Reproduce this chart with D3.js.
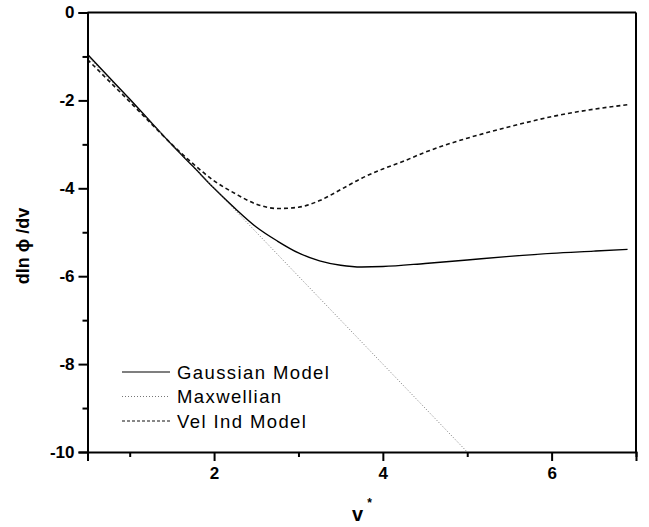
<!DOCTYPE html>
<html>
<head>
<meta charset="utf-8">
<script src="https://cdn.jsdelivr.net/npm/d3@7"></script>
<style>
  body { margin: 0; background: #fff; }
  text { font-family: "Liberation Sans", Arial, sans-serif; }
</style>
</head>
<body>
<div class="LineGraph"></div>
<script>
// x values (v*) for each series
const vGauss = [0.5, 0.75, 1.0, 1.25, 1.5, 1.75, 2.0, 2.25, 2.5, 2.75, 3.0, 3.25, 3.5, 3.75, 4.0, 4.5, 5.0, 5.5, 6.0, 6.5, 6.9];
const gaussian = [-0.95, -1.46, -1.97, -2.49, -3.01, -3.5, -4.0, -4.46, -4.88, -5.2, -5.47, -5.65, -5.75, -5.79, -5.78, -5.71, -5.63, -5.55, -5.48, -5.43, -5.39];

const vMax = [0.5, 1, 1.5, 2, 2.5, 3, 3.5, 4, 4.5, 5];
const maxwellian = [-1, -2, -3, -4, -5, -6, -7, -8, -9, -10];

const vVel = [0.5, 0.75, 1.0, 1.25, 1.5, 1.75, 2.0, 2.25, 2.5, 2.75, 3.0, 3.25, 3.5, 3.75, 4.0, 4.25, 4.5, 4.75, 5.0, 5.5, 6.0, 6.5, 6.9];
const velInd = [-1.07, -1.55, -2.03, -2.52, -3.0, -3.44, -3.83, -4.12, -4.36, -4.46, -4.43, -4.28, -4.03, -3.77, -3.56, -3.38, -3.18, -3.01, -2.86, -2.6, -2.37, -2.2, -2.1];

const xMajor = [2, 4, 6];
const xMinor = [1, 3, 5, 7];
const yMajor = [0, -2, -4, -6, -8, -10];
const yMinor = [-1, -3, -5, -7, -9];

const seriesNames = ["Gaussian Model", "Maxwellian", "Vel Ind Model"];

const width = 649, height = 527;
const margin = ({ top: 12.5, right: 13, bottom: 75, left: 87.5 });

//scales
const x = d3.scaleLinear()
  .domain([0.5, 7])
  .range([margin.left, width - margin.right]);

const y = d3.scaleLinear()
  .domain([-10, 0])
  .range([height - margin.bottom, margin.top]);

const svg = d3.select(".LineGraph").append("svg")
  .attr("width", width)
  .attr("height", height);

//curves
const line = d3.line()
  .x(d => x(d[0]))
  .y(d => y(d[1]))
  .curve(d3.curveMonotoneX);

const series = [
  { name: seriesNames[0], data: d3.zip(vGauss, gaussian), dash: null, width: 1.4, color: "#000" },
  { name: seriesNames[1], data: d3.zip(vMax, maxwellian), dash: "1,2", width: 0.9, color: "#666" },
  { name: seriesNames[2], data: d3.zip(vVel, velInd), dash: "4,3", width: 1.6, color: "#111" }
];

svg.append("g").selectAll("path")
  .data(series)
  .join("path")
  .attr("fill", "none")
  .attr("stroke", d => d.color)
  .attr("stroke-width", d => d.width)
  .attr("stroke-dasharray", d => d.dash)
  .attr("d", d => line(d.data));

//bottom axis (major + minor ticks)
const xAxisG = svg.append("g")
  .attr("transform", `translate(0,${height - margin.bottom})`);
xAxisG.call(d3.axisBottom(x).tickValues(xMajor).tickSize(9).tickPadding(6).tickFormat(d3.format("d")));
xAxisG.append("g").call(d3.axisBottom(x).tickValues(xMinor).tickSize(5).tickFormat(""))
  .call(g => g.select(".domain").remove());

//left axis
const yAxisG = svg.append("g")
  .attr("transform", `translate(${margin.left},0)`);
yAxisG.call(d3.axisLeft(y).tickValues(yMajor).tickSize(9).tickPadding(4).tickFormat(d => d3.format("d")(d).replace("−", "-")));
yAxisG.append("g").call(d3.axisLeft(y).tickValues(yMinor).tickSize(5).tickFormat(""))
  .call(g => g.select(".domain").remove());

svg.selectAll(".domain").attr("stroke-width", 2);
svg.selectAll(".tick line").attr("stroke-width", 2);
svg.selectAll(".tick text")
  .attr("font-size", 17)
  .attr("font-weight", "bold")
  .attr("font-family", "Liberation Sans, Arial, sans-serif")
  .attr("fill", "#000");

//top and right frame
svg.append("line")
  .attr("x1", x(0.5)).attr("x2", x(7))
  .attr("y1", y(0)).attr("y2", y(0))
  .attr("stroke", "#000").attr("stroke-width", 2);
svg.append("line")
  .attr("x1", x(7)).attr("x2", x(7))
  .attr("y1", y(0)).attr("y2", y(-10))
  .attr("stroke", "#000").attr("stroke-width", 2);

//legend
const legend = svg.append("g").selectAll("g")
  .data(series)
  .join("g")
  .attr("transform", (d, i) => `translate(122,${372 + i * 24.5})`);
legend.append("line")
  .attr("x1", 0).attr("x2", 48)
  .attr("stroke", d => d.color)
  .attr("stroke-width", d => Math.min(d.width, 1.2))
  .attr("stroke-dasharray", d => d.dash === "4,3" ? "3,2" : d.dash);
legend.append("text")
  .attr("x", 55)
  .attr("dy", "0.36em")
  .attr("font-size", 18.5)
  .attr("letter-spacing", 1.4)
  .text(d => d.name);

//axis titles
const xTitle = svg.append("text")
  .attr("x", 362)
  .attr("y", 521)
  .attr("text-anchor", "middle")
  .attr("font-size", 20)
  .attr("font-weight", "bold");
xTitle.append("tspan").text("v");
xTitle.append("tspan").attr("dx", 4).attr("dy", -14).attr("font-size", 12).text("*");

svg.append("text")
  .attr("transform", "translate(29,246) rotate(-90)")
  .attr("text-anchor", "middle")
  .attr("font-size", 18)
  .attr("font-weight", "bold")
  .text("dln \u03d5 /dv");
</script>
</body>
</html>
